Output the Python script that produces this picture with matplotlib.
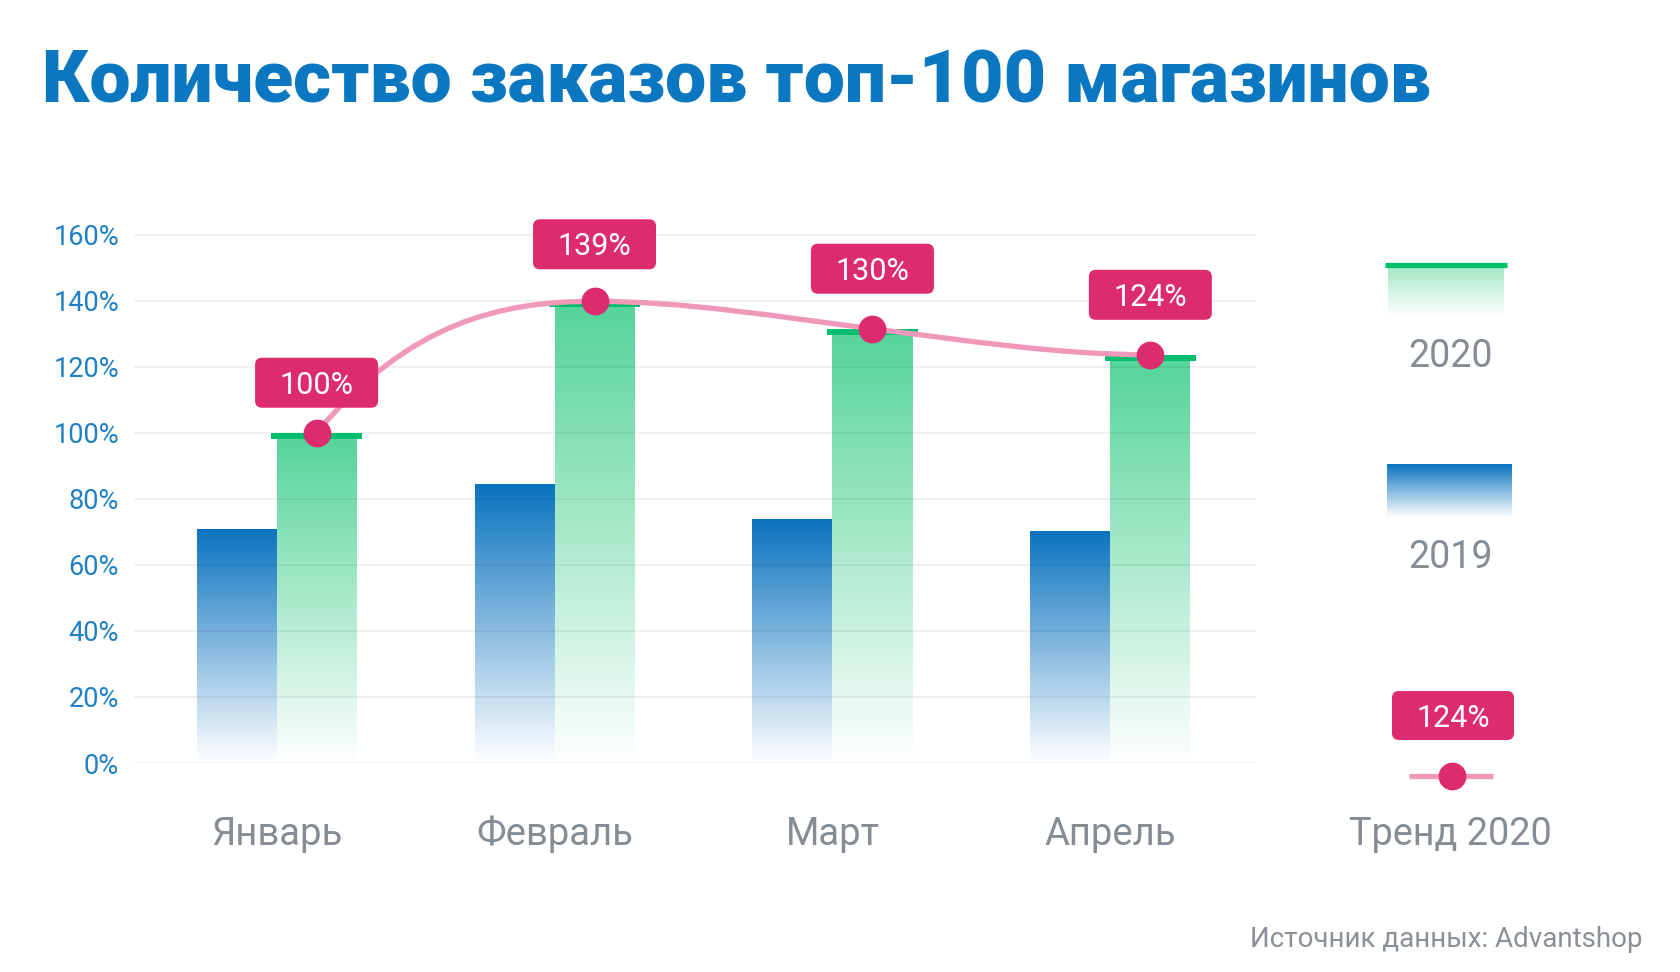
import numpy as np
import matplotlib.pyplot as plt
from matplotlib.colors import LinearSegmentedColormap
from matplotlib.patches import FancyBboxPatch, PathPatch
from matplotlib.path import Path

# --- data ---
months = ['Январь', 'Февраль', 'Март', 'Апрель']
orders_2019 = [70.6, 84.2, 73.7, 70.0]
orders_2020 = [100.0, 139.8, 131.5, 123.6]
labels_2020 = ['100%', '139%', '130%', '124%']
y_ticks = [0, 20, 40, 60, 80, 100, 120, 140, 160]
legend_years = ['2020', '2019']
trend_name = 'Тренд 2020'
title = 'Количество заказов топ-100 магазинов'
source = 'Источник данных: Advantshop'

BLUE = '#0a73bf'
GREEN = '#55d49b'
GREEN_LIGHT = '#a6e8c8'
CAP = '#00be6e'
PINK = '#dd2c6e'
TREND = '#ef98b9'
GREY = '#858c93'
TICK_BLUE = '#1f80c6'
TITLE_BLUE = '#0a77c0'

plt.rcParams['font.family'] = ['Roboto', 'DejaVu Sans']

W, H = 1680, 972
fig = plt.figure(figsize=(W / 100, H / 100), dpi=100)

# plot area in pixels
left, right, bottom, top = 134, 1256, 763, 200
ax = fig.add_axes([left / W, 1 - bottom / H, (right - left) / W, (bottom - top) / H])
xmin, xmax = -0.513, 3.524
ymax = (bottom - top) / 3.3025
kx = (xmax - xmin) / (right - left)   # data units per pixel
ky = ymax / (bottom - top)

bw = 80 * kx
cap_w = 91 * kx
cap_h = 6 * ky
grad = np.linspace(0, 1, 256).reshape(-1, 1)
cmap19 = LinearSegmentedColormap.from_list('c19', ['#ffffff', BLUE])
cmap20 = LinearSegmentedColormap.from_list('c20', ['#ffffff', GREEN])
cmap20l = LinearSegmentedColormap.from_list('c20l', ['#ffffff', GREEN_LIGHT])

x = np.arange(len(months))
for i in x:
    ax.imshow(grad, extent=(i - bw, i, 0, orders_2019[i]), origin='lower',
              cmap=cmap19, aspect='auto', zorder=2)
    ax.imshow(grad, extent=(i, i + bw, 0, orders_2020[i] - cap_h), origin='lower',
              cmap=cmap20, aspect='auto', zorder=2)
ax.bar(x + bw / 2, cap_h, width=cap_w, bottom=np.array(orders_2020) - cap_h,
       color=CAP, zorder=3)

# smooth trend line through the 2020 values
tx = x + bw / 2
ty = np.array(orders_2020)
tangents = [101, 0, -10.5, 0]  # handle slopes, % per month
verts = [(tx[0], ty[0])]
codes = [Path.MOVETO]
for k in range(len(tx) - 1):
    d = (tx[k + 1] - tx[k]) / 3
    verts += [(tx[k] + d, ty[k] + d * tangents[k]),
              (tx[k + 1] - d, ty[k + 1] - d * tangents[k + 1]),
              (tx[k + 1], ty[k + 1])]
    codes += [Path.CURVE4] * 3
ax.add_patch(PathPatch(Path(verts, codes), fc='none', ec=TREND, lw=3.8,
                       zorder=4, clip_on=False))
ax.plot(tx, ty, 'o', ms=20, color=PINK, mec='none', zorder=5, clip_on=False)

box_w, box_h = 123 * kx, 50 * ky
box_gaps = [50, 57, 60, 60]  # px between dot and label box centre
for xi, yi, lab, gap in zip(tx, ty, labels_2020, box_gaps):
    cy = yi + gap * ky
    ax.add_patch(FancyBboxPatch((xi - box_w / 2, cy - box_h / 2), box_w, box_h,
                                boxstyle=f'round,pad=0,rounding_size={7 * kx}',
                                mutation_aspect=ky / kx, fc=PINK, ec='none',
                                zorder=6, clip_on=False))
    ax.text(xi, cy - 11 * ky, lab, ha='center', va='baseline', fontsize=22,
            color='white', zorder=7, clip_on=False)

for i, m in enumerate(months):
    ax.text(i, -82 * ky, m, ha='center', va='baseline', fontsize=27.5,
            color=GREY, clip_on=False)

ax.set_xlim(xmin, xmax)
ax.set_ylim(0, ymax)
ax.set_yticks(y_ticks)
ax.set_yticklabels([f'{t}%' for t in y_ticks])
ax.set_xticks([])
ax.tick_params(axis='y', length=0, pad=10.8, labelsize=19.5, labelcolor=TICK_BLUE)
ax.grid(axis='y', color='black', alpha=0.07, lw=1.1)
ax.set_axisbelow(False)
for s in ax.spines.values():
    s.set_visible(False)
ax.set_facecolor('none')

# legend column, in pixel coordinates
lax = fig.add_axes([0, 0, 1, 1], zorder=3)
lc = 1450
lax.imshow(grad, extent=(1388, 1504, 316, 267), origin='lower', cmap=cmap20l,
           aspect='auto')
lax.plot([1385, 1507], [265, 265], color=CAP, lw=3.8, solid_capstyle='butt')
lax.text(lc, 367, legend_years[0], ha='center', va='baseline', fontsize=27, color=GREY)
lax.imshow(grad, extent=(1387, 1512, 517, 464), origin='lower', cmap=cmap19,
           aspect='auto')
lax.text(lc, 568, legend_years[1], ha='center', va='baseline', fontsize=27, color=GREY)
lax.add_patch(FancyBboxPatch((1392, 691), 122, 49,
                             boxstyle='round,pad=0,rounding_size=7',
                             fc=PINK, ec='none'))
lax.text(1453, 727, labels_2020[-1], ha='center', va='baseline', fontsize=22,
         color='white')
lax.plot([1409, 1493], [776, 776], color=TREND, lw=3.8, solid_capstyle='butt')
lax.plot([1452], [776], 'o', ms=20, color=PINK, mec='none')
lax.text(lc, 845, trend_name, ha='center', va='baseline', fontsize=27.3, color=GREY)
lax.set_xlim(0, W)
lax.set_ylim(H, 0)
lax.axis('off')

t = fig.text(42 / W, 1 - 102.5 / H, title, fontsize=52, fontweight=900,
             color=TITLE_BLUE, va='baseline')
fig.canvas.draw()
tw = t.get_window_extent().width
t.set_fontsize(52 * 1389 / tw)

fig.text(1643 / W, 1 - 946.7 / H, source, ha='right', va='baseline',
         fontsize=20, color='#8a9096')

fig.savefig('out.png', dpi=100, facecolor='white')
